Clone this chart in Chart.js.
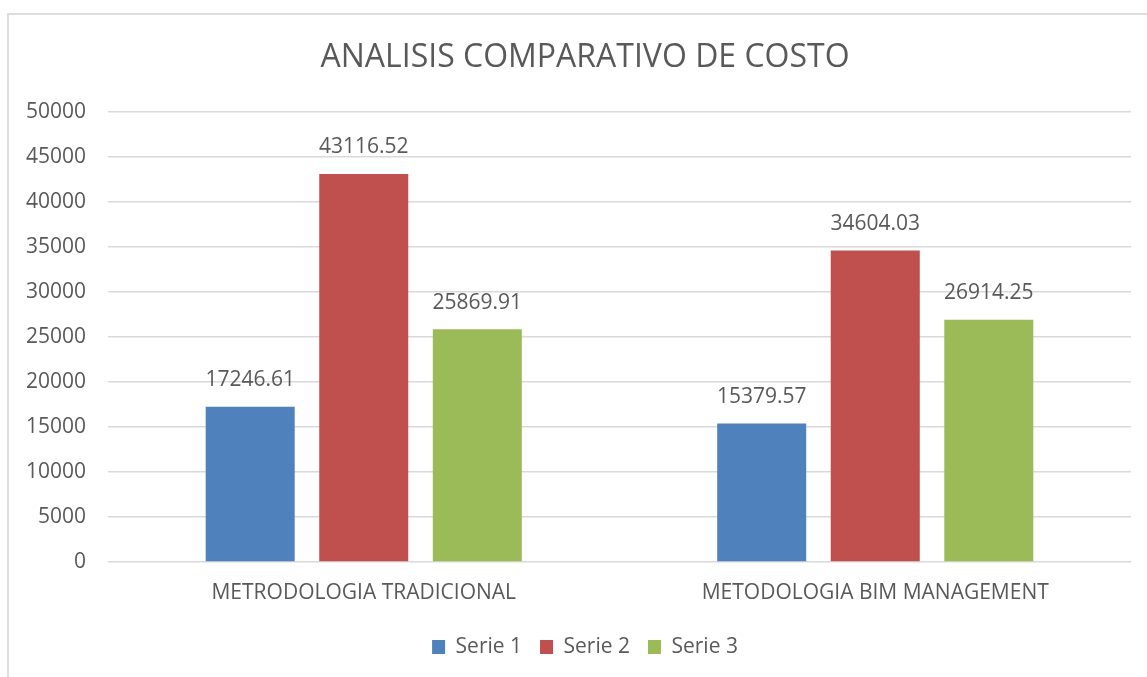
<!DOCTYPE html>
<html>
<head>
<meta charset="utf-8">
<title>Analisis comparativo de costo</title>
<script src="https://cdn.jsdelivr.net/npm/chart.js@4.4.0/dist/chart.umd.min.js"></script>
<style>
    html, body { margin: 0; padding: 0; background: #ffffff; overflow: hidden; }
    #frame {
        position: absolute;
        left: 7px;
        top: 13px;
        width: 1200px;
        height: 700px;
        border-left: 2px solid #dddddd;
        border-top: 2px solid #dddddd;
    }
    #costo { display: block; }
</style>
</head>
<body>
<div id="frame">
    <canvas id="costo" width="1151" height="662"></canvas>
</div>
<script>
var categorias = ["METRODOLOGIA TRADICIONAL", "METODOLOGIA BIM MANAGEMENT"];
var serie1 = [17246.61, 15379.57];
var serie2 = [43116.52, 34604.03];
var serie3 = [25869.91, 26914.25];
var nombresSeries = ["Serie 1", "Serie 2", "Serie 3"];
var ejeY = { min: 0, max: 50000, paso: 5000 };

var colores = ["#4F81BD", "#C0504D", "#9BBB59"];
var gris = "#595959";

// valor encima de cada barra
var etiquetasValor = {
    id: "etiquetasValor",
    afterDatasetsDraw: function (chart) {
        var ctx = chart.ctx;
        ctx.save();
        ctx.font = "21px 'Open Sans'";
        ctx.fillStyle = gris;
        ctx.textAlign = "center";
        ctx.textBaseline = "middle";
        chart.data.datasets.forEach(function (ds, i) {
            chart.getDatasetMeta(i).data.forEach(function (bar, j) {
                ctx.fillText(ds.data[j].toFixed(2), bar.x, bar.y - 26.5);
            });
        });
        ctx.restore();
    }
};

// titulo y leyenda centrados en todo el marco, no solo hasta el area del grafico
var centrarCajas = {
    id: "centrarCajas",
    afterLayout: function (chart) {
        var d = 15;
        chart.titleBlock.left += d;
        chart.titleBlock.right += d;
        chart.legend.left += d;
        chart.legend.right += d;
    }
};

new Chart("costo", {
    type: "bar",
    data: {
        labels: categorias,
        datasets: [
            { label: nombresSeries[0], data: serie1, backgroundColor: colores[0] },
            { label: nombresSeries[1], data: serie2, backgroundColor: colores[1] },
            { label: nombresSeries[2], data: serie3, backgroundColor: colores[2] }
        ]
    },
    options: {
        responsive: false,
        animation: false,
        devicePixelRatio: 1,
        categoryPercentage: 0.666,
        barPercentage: 0.784,
        layout: { padding: { left: 0, right: 29, top: 0, bottom: 9.5 } },
        plugins: {
            title: {
                display: true,
                text: "ANALISIS COMPARATIVO DE COSTO",
                color: gris,
                font: { family: "'Open Sans'", size: 32, weight: "normal" },
                padding: { top: 24, bottom: 34.6 }
            },
            legend: {
                position: "bottom",
                labels: {
                    color: gris,
                    font: { family: "'Open Sans'", size: 21 },
                    boxWidth: 13,
                    boxHeight: 14,
                    padding: 18
                }
            },
            tooltip: { enabled: false }
        },
        scales: {
            x: {
                grid: { display: false, drawTicks: false },
                border: { display: false },
                ticks: {
                    color: gris,
                    font: { family: "'Open Sans'", size: 21 },
                    padding: 18.4
                },
                afterFit: function (scale) { scale.height = 56.5; }
            },
            y: {
                min: ejeY.min,
                max: ejeY.max,
                grid: { color: "#d9d9d9", lineWidth: 1.5, drawTicks: false },
                border: { display: false },
                ticks: {
                    stepSize: ejeY.paso,
                    color: gris,
                    font: { family: "'Open Sans'", size: 21 },
                    padding: 22,
                    callback: function (v) { return String(v); }
                },
                afterFit: function (scale) { scale.width = 99; }
            }
        }
    },
    plugins: [etiquetasValor, centrarCajas]
});
</script>
</body>
</html>
